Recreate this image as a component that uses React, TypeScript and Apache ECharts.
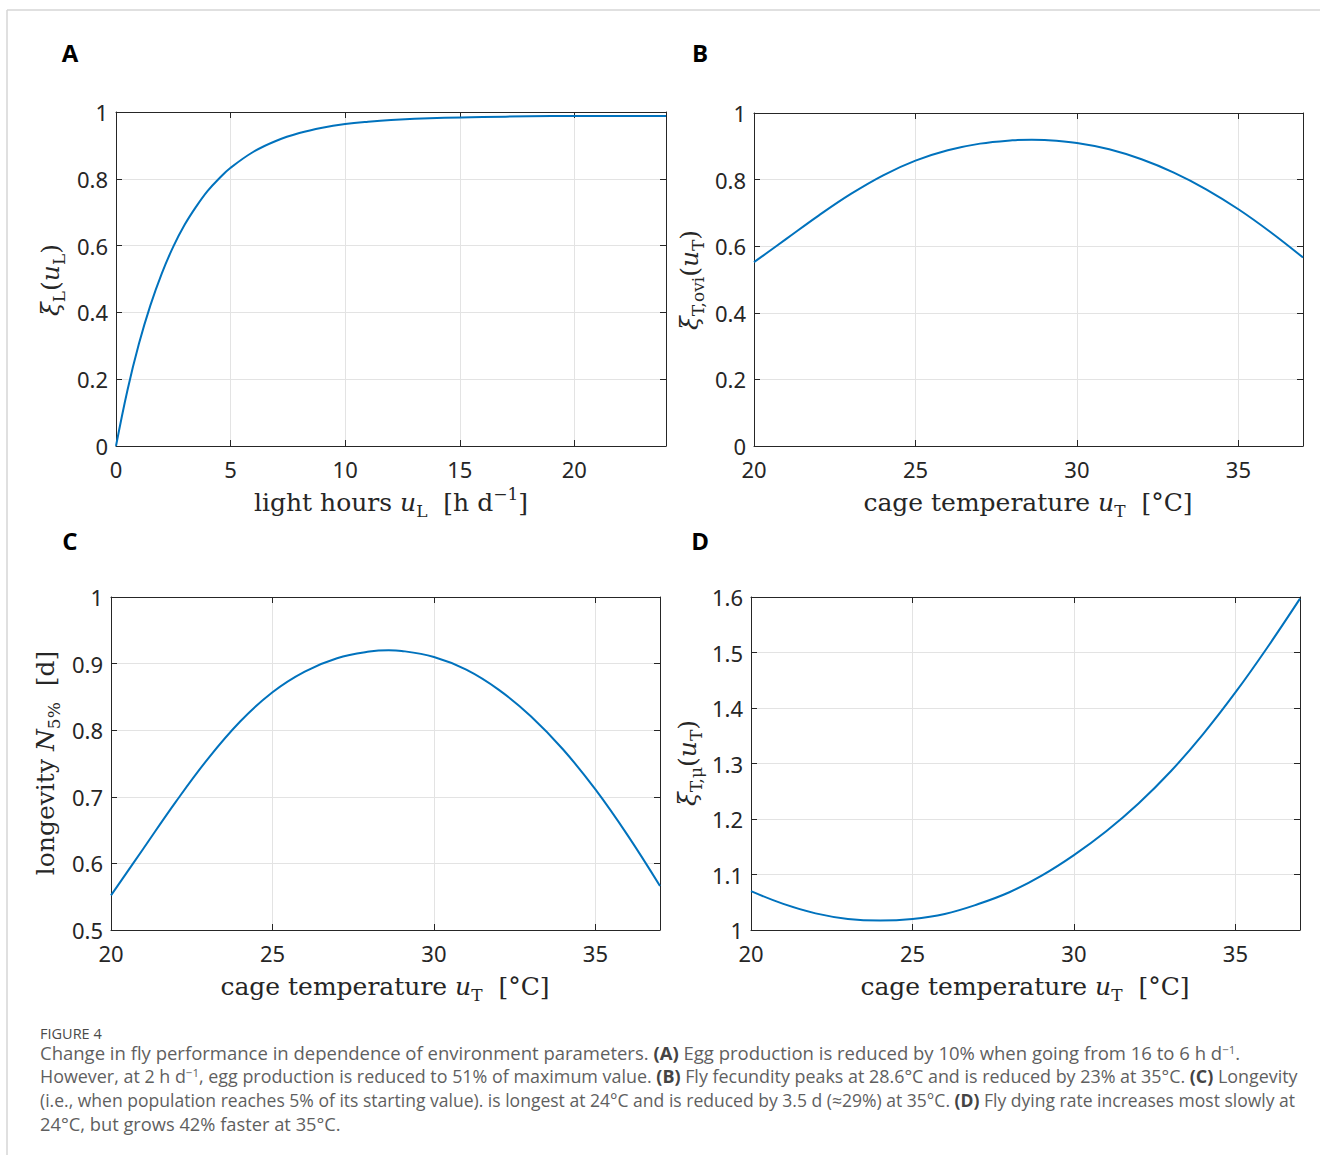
import React, { useEffect, useRef } from 'react';
import * as echarts from 'echarts';

// Panel A: light hours vs xi_L
const lightHours = [0, 0.5, 1, 1.5, 2, 2.5, 3, 3.5, 4, 4.5, 5, 6, 7, 8, 9, 10, 11, 12, 14, 16, 18, 20, 22, 24];
const xiL = [0, 0.167, 0.306, 0.421, 0.517, 0.597, 0.663, 0.717, 0.764, 0.801, 0.833, 0.881, 0.914, 0.937, 0.953, 0.964, 0.971, 0.976, 0.982, 0.985, 0.987, 0.988, 0.988, 0.988];

// Panel B: cage temperature vs xi_T,ovi
const tempB = [20, 21, 22, 23, 24, 25, 26, 27, 28, 28.6, 29, 30, 31, 32, 33, 34, 35, 36, 37];
const xiTovi = [0.552, 0.622, 0.692, 0.757, 0.813, 0.857, 0.888, 0.908, 0.918, 0.92, 0.919, 0.91, 0.891, 0.861, 0.821, 0.771, 0.711, 0.642, 0.566];

// Panel C: cage temperature vs longevity
const tempC = [20, 21, 22, 23, 24, 25, 26, 27, 28, 28.6, 29, 30, 31, 32, 33, 34, 35, 36, 37];
const longevity = [0.552, 0.622, 0.692, 0.757, 0.813, 0.857, 0.888, 0.908, 0.918, 0.92, 0.919, 0.91, 0.891, 0.861, 0.821, 0.771, 0.711, 0.642, 0.566];

// Panel D: cage temperature vs xi_T,mu
const tempD = [20, 21, 22, 23, 24, 25, 26, 27, 28, 29, 30, 31, 32, 33, 34, 35, 36, 37];
const xiTmu = [1.07, 1.047, 1.03, 1.02, 1.017, 1.02, 1.029, 1.046, 1.068, 1.098, 1.135, 1.178, 1.228, 1.286, 1.353, 1.428, 1.51, 1.597];

const panelLetters = ['A', 'B', 'C', 'D'];

const captionHead = 'FIGURE 4';
const captionLines = [
  '{n|Change in fly performance in dependence of environment parameters. }{b|(A)}{n| Egg production is reduced by 10% when going from 16 to 6 h d}{sup|−1}{n|.}',
  '{n|However, at 2 h d}{sup|−1}{n|, egg production is reduced to 51% of maximum value. }{b|(B)}{n| Fly fecundity peaks at 28.6°C and is reduced by 23% at 35°C. }{b|(C)}{n| Longevity}',
  '{n|(i.e., when population reaches 5% of its starting value). is longest at 24°C and is reduced by 3.5 d (≈29%) at 35°C. }{b|(D)}{n| Fly dying rate increases most slowly at}',
  '{n|24°C, but grows 42% faster at 35°C.}',
];
const captionSizes = [18.5, 17.9, 17.55, 18.3];

const INK = '#262626';
const LINE = '#0072BD';
const SERIF = 'DejaVu Serif';
const SANS = 'Noto Sans';

const grids = [
  { left: 116, top: 112, width: 550, height: 334 },
  { left: 754, top: 113, width: 549, height: 333 },
  { left: 111, top: 597, width: 549, height: 333 },
  { left: 751, top: 597, width: 549, height: 333 },
];

const xRanges = [
  [0, 24],
  [20, 37],
  [20, 37],
  [20, 37],
];
const yRanges = [
  [0, 1, 0.2],
  [0, 1, 0.2],
  [0.5, 1, 0.1],
  [1, 1.6, 0.1],
];

function makeXAxes(g: number) {
  const [min, max] = xRanges[g];
  const common: any = {
    type: 'value',
    gridIndex: g,
    min,
    max,
    interval: 5,
    axisLine: { show: true, onZero: false, lineStyle: { color: INK, width: 1 } },
    axisTick: { show: true, inside: true, length: 6, lineStyle: { color: INK, width: 1 } },
  };
  return [
    {
      ...common,
      position: 'bottom',
      axisLabel: {
        show: true,
        margin: 12,
        fontSize: 22,
        fontFamily: SANS,
        color: INK,
        formatter: (v: number) => (Math.abs(v % 5) < 1e-9 ? String(v) : ''),
      },
      splitLine: { show: true, lineStyle: { color: '#e3e3e3', width: 1 } },
    },
    {
      ...common,
      position: 'top',
      axisLabel: { show: false },
      splitLine: { show: false },
    },
  ];
}

function makeYAxes(g: number) {
  const [min, max, interval] = yRanges[g];
  const common: any = {
    type: 'value',
    gridIndex: g,
    min,
    max,
    interval,
    axisLine: { show: true, onZero: false, lineStyle: { color: INK, width: 1 } },
    axisTick: { show: true, inside: true, length: 6, lineStyle: { color: INK, width: 1 } },
  };
  return [
    {
      ...common,
      position: 'left',
      axisLabel: { show: true, margin: 8, fontSize: 22, fontFamily: SANS, color: INK },
      splitLine: { show: true, lineStyle: { color: '#e3e3e3', width: 1 } },
    },
    {
      ...common,
      position: 'right',
      axisLabel: { show: false },
      splitLine: { show: false },
    },
  ];
}

const mathRich: any = {
  r: { fontFamily: SERIF, fontSize: 25, lineHeight: 34, fill: INK },
  i: { fontFamily: SERIF, fontSize: 25, fontStyle: 'italic', lineHeight: 34, fill: INK },
  sub: { fontFamily: SERIF, fontSize: 17, lineHeight: 20, verticalAlign: 'bottom', fill: INK },
  sup: { fontFamily: SERIF, fontSize: 17, lineHeight: 20, verticalAlign: 'top', fill: INK },
};

function mathText(x: number, y: number, text: string, rotate: boolean) {
  return {
    type: 'text',
    x,
    y,
    rotation: rotate ? Math.PI / 2 : 0,
    style: {
      text,
      rich: mathRich,
      align: 'center',
      verticalAlign: 'middle',
      textAlign: 'center',
      textVerticalAlign: 'middle',
      fill: INK,
    },
  };
}

const xTitleA = '{r|light hours }{i|u}{sub|L}{r|  [h d}{sup|−1}{r|]}';
const xTitleT = '{r|cage temperature }{i|u}{sub|T}{r|  [°C]}';
const yTitleA = '{i|ξ}{sub|L}{r|(}{i|u}{sub|L}{r|)}';
const yTitleB = '{i|ξ}{sub|T,ovi}{r|(}{i|u}{sub|T}{r|)}';
const yTitleC = '{r|longevity }{i|N}{sub|5%}{r|  [d]}';
const yTitleD = '{i|ξ}{sub|T,μ}{r|(}{i|u}{sub|T}{r|)}';

export default function App() {
  const ref = useRef<HTMLDivElement>(null);

  useEffect(() => {
    if (!ref.current) return;
    const chart = echarts.init(ref.current, undefined, { renderer: 'svg' });

    const lineSeries = (g: number, xs: number[], ys: number[]) => ({
      type: 'line',
      xAxisIndex: g * 2,
      yAxisIndex: g * 2,
      data: xs.map((x, i) => [x, ys[i]]),
      symbol: 'none',
      showSymbol: false,
      smooth: 0.4,
      lineStyle: { color: LINE, width: 2 },
      itemStyle: { color: LINE },
      clip: true,
    });

    const letterPos = [
      [70, 52],
      [700, 52],
      [70, 540],
      [700, 540],
    ];

    const graphic: any[] = [
      { type: 'line', shape: { x1: 7, y1: 10, x2: 1320, y2: 10 }, style: { stroke: '#d6d6d6', lineWidth: 1.5 } },
      { type: 'line', shape: { x1: 7, y1: 10, x2: 7, y2: 1155 }, style: { stroke: '#d6d6d6', lineWidth: 1.5 } },
      ...panelLetters.map((t, i) => ({
        type: 'text',
        x: letterPos[i][0],
        y: letterPos[i][1],
        style: {
          text: t,
          font: 'bold 24px "Open Sans"',
          fill: '#000',
          align: 'center',
          verticalAlign: 'middle',
          textAlign: 'center',
          textVerticalAlign: 'middle',
        },
      })),
      mathText(391, 502, xTitleA, false),
      mathText(1028, 502, xTitleT, false),
      mathText(385, 986, xTitleT, false),
      mathText(1025, 986, xTitleT, false),
      mathText(50, 280, yTitleA, true),
      mathText(689, 280, yTitleB, true),
      mathText(45, 763, yTitleC, true),
      mathText(687, 763, yTitleD, true),
      {
        type: 'text',
        x: 40,
        y: 1033,
        style: {
          text: captionHead,
          font: '14.5px "Open Sans"',
          fill: '#4a4a4a',
          align: 'left',
          verticalAlign: 'middle',
          textAlign: 'left',
          textVerticalAlign: 'middle',
        },
      },
      ...captionLines.map((t, i) => ({
        type: 'text',
        x: 40,
        y: 1052.5 + i * 23.8,
        style: {
          text: t,
          align: 'left',
          verticalAlign: 'middle',
          textAlign: 'left',
          textVerticalAlign: 'middle',
          rich: {
            n: { fontFamily: 'Open Sans', fontSize: captionSizes[i], lineHeight: 19, fill: '#5f5f5f' },
            b: { fontFamily: 'Open Sans', fontSize: captionSizes[i], lineHeight: 19, fontWeight: 'bold', fill: '#444' },
            sup: { fontFamily: 'Open Sans', fontSize: 11.5, lineHeight: 10, verticalAlign: 'top', fill: '#5f5f5f' },
          },
        },
      })),
    ];

    chart.setOption({
      animation: false,
      backgroundColor: '#ffffff',
      grid: grids.map((g) => ({ ...g, containLabel: false })),
      xAxis: [0, 1, 2, 3].flatMap((g) => makeXAxes(g)),
      yAxis: [0, 1, 2, 3].flatMap((g) => makeYAxes(g)),
      series: [
        lineSeries(0, lightHours, xiL),
        lineSeries(1, tempB, xiTovi),
        lineSeries(2, tempC, longevity),
        lineSeries(3, tempD, xiTmu),
      ],
      graphic,
    });

    return () => chart.dispose();
  }, []);

  return (
    <div
      ref={ref}
      style={{ position: 'absolute', left: 0, top: 0, width: 1320, height: 1155, background: '#fff' }}
    />
  );
}
